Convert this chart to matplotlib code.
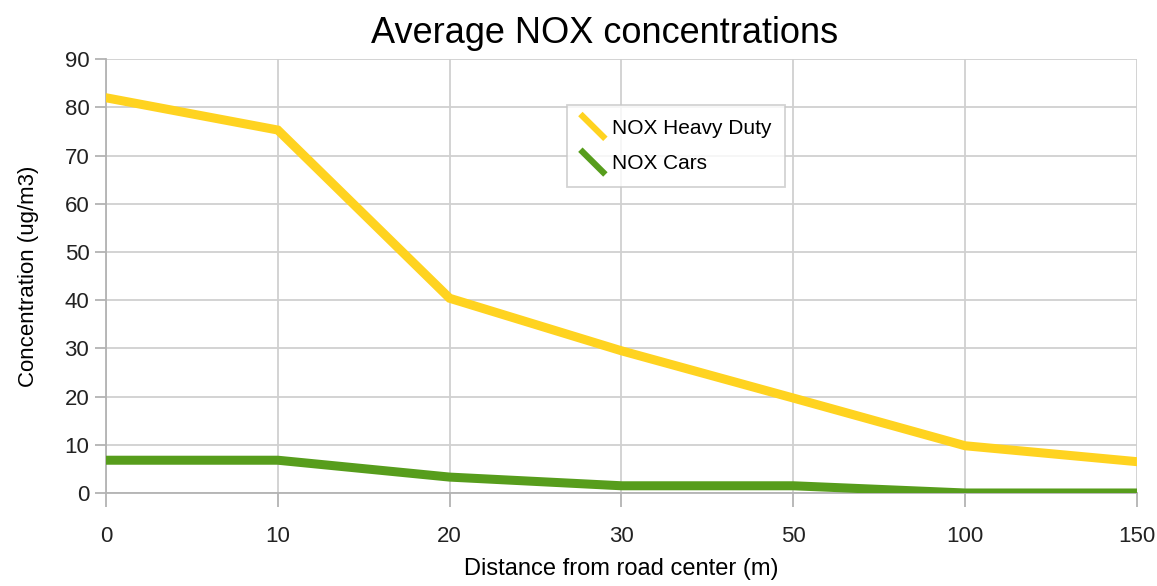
import matplotlib.pyplot as plt
from matplotlib.lines import Line2D
from matplotlib.legend_handler import HandlerBase

plt.rcParams["font.family"] = ["Liberation Sans", "DejaVu Sans"]

distances = ["0", "10", "20", "30", "50", "100", "150"]
heavy_duty = [82.0, 75.3, 40.4, 29.5, 19.7, 9.8, 6.5]
cars = [6.8, 6.8, 3.3, 1.5, 1.5, 0.0, 0.0]


class DiagonalHandler(HandlerBase):
    # legend key drawn as a short falling diagonal stroke
    def create_artists(self, legend, orig_handle, xdescent, ydescent,
                       width, height, fontsize, trans):
        line = Line2D([0.0, width],
                      [1.35 * height, -0.35 * height],
                      color=orig_handle.get_color(), lw=4.5,
                      solid_capstyle="butt", transform=trans)
        return [line]


fig = plt.figure(figsize=(11.57, 5.86), dpi=100)
ax = fig.add_axes([0.0916, 0.1587, 0.8911, 0.7403])

x = range(len(distances))
ax.plot(x, heavy_duty, color="#ffd320", lw=6.5, solid_joinstyle="miter", zorder=3)
ax.plot(x, cars, color="#579d1c", lw=6.5, solid_joinstyle="miter", zorder=3)

ax.set_xlim(0, len(distances) - 1)
ax.set_ylim(0, 90)
ax.set_xticks(list(x))
ax.set_xticklabels(distances)
ax.set_yticks(range(0, 91, 10))

ax.grid(True, color="#d0d0d0", lw=1.3)
ax.set_axisbelow(True)
for side in ["top", "right"]:
    ax.spines[side].set_visible(False)
for side in ["left", "bottom"]:
    ax.spines[side].set_color("#b3b3b3")
    ax.spines[side].set_linewidth(1.3)
ax.tick_params(axis="both", colors="#b3b3b3", width=1.3,
               labelcolor="#222222", labelsize=16)
ax.tick_params(axis="x", length=10, pad=14)
ax.tick_params(axis="y", length=8, pad=4)

ax.set_title("Average NOX concentrations", fontsize=26, pad=12, x=0.484)
ax.set_xlabel("Distance from road center (m)", fontsize=17, labelpad=8)
ax.set_ylabel("Concentration (ug/m3)", fontsize=16, labelpad=18)

handles = [
    Line2D([0], [0], color="#ffd320"),
    Line2D([0], [0], color="#579d1c"),
]
leg = ax.legend(handles, ["NOX Heavy Duty", "NOX Cars"],
                loc="upper left", bbox_to_anchor=(0.447, 0.894),
                handler_map={Line2D: DiagonalHandler()},
                fontsize=15, frameon=True, fancybox=False,
                handlelength=1.2, handletextpad=0.3, labelspacing=0.8,
                borderpad=0.65, borderaxespad=0)
leg.get_frame().set_edgecolor("#c8c8c8")
leg.get_frame().set_linewidth(1.3)

fig.savefig("out.png", dpi=100)
